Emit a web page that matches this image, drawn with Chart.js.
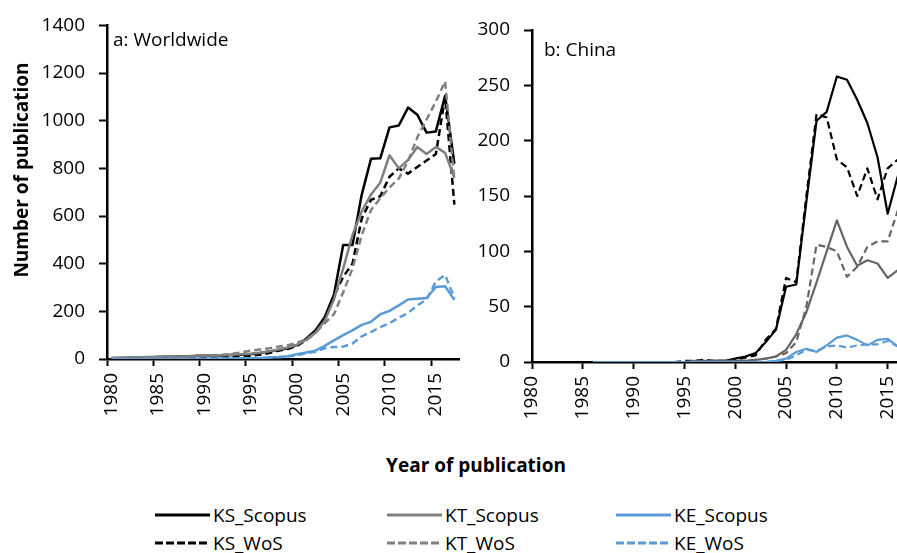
<!DOCTYPE html>
<html>
<head>
<meta charset="utf-8">
<script src="https://cdn.jsdelivr.net/npm/chart.js@4.4.1/dist/chart.umd.min.js"></script>
<style>
  body { margin: 0; background: #fff; }
  .page { position: relative; width: 897px; height: 553px; overflow: hidden; font-family: 'Open Sans', sans-serif; color: #000; }
  .panel { position: absolute; top: 0; }
  .lbl { position: absolute; font-size: 19px; line-height: 22px; white-space: nowrap; }
  .bold { font-weight: bold; }
  .ytitle { width: 300px; text-align: center; transform: rotate(-90deg); }
  .leg { position: absolute; height: 22px; display: flex; align-items: center; font-size: 19px; white-space: nowrap; }
  .leg svg { margin-right: 3px; }
</style>
</head>
<body>
<div class="page">
  <canvas id="chartA" class="panel" width="475" height="440" style="left:0px"></canvas>
  <canvas id="chartB" class="panel" width="480" height="440" style="left:440px"></canvas>
  <div class="lbl" style="left:113px; top:28px">a: Worldwide</div>
  <div class="lbl" style="left:544px; top:38px">b: China</div>
  <div class="lbl bold ytitle" style="left:-129px; top:159px">Number of publication</div>
  <div class="lbl bold" style="left:476px; top:454px; transform:translateX(-50%)">Year of publication</div>
  <div class="js-legend"></div>
</div>
<script>
// jaren (categorie-as)
const years = ['1980','1981','1982','1983','1984','1985','1986','1987','1988','1989',
  '1990','1991','1992','1993','1994','1995','1996','1997','1998','1999',
  '2000','2001','2002','2003','2004','2005','2006','2007','2008','2009',
  '2010','2011','2012','2013','2014','2015','2016','2017'];

// a: Worldwide
const ksScopusWorld = [3,4,5,5,6, 8,9,10,12,13, 15,14,15,17,18, 20,25,32,38,45,
  58,85,120,175,270, 478,478,690,840,842, 972,980,1055,1025,950, 955,1105,820];
const ksWosWorld = [0,0,0,0,0, 1,1,2,3,4, 5,5,6,8,10, 14,18,25,35,42,
  55,80,110,165,265, 345,400,590,668,683, 765,800,778,806,833, 860,1100,648];
const ktScopusWorld = [5,5,6,7,8, 9,10,11,12,14, 16,15,16,18,20, 22,26,32,40,48,
  60,80,110,160,250, 380,520,620,690,740, 855,800,835,890,860, 890,865,760];
const ktWosWorld = [2,3,4,5,6, 7,8,9,10,12, 14,15,18,22,28, 35,40,45,52,58,
  68,82,110,150,188, 280,380,520,625,675, 720,757,830,930,1005, 1080,1165,750];
const keScopusWorld = [0,0,0,0,0, 0,0,0,0,1, 1,1,2,2,3, 3,4,6,8,12,
  20,27,35,55,78, 100,120,143,156,188, 202,225,250,253,256, 302,305,248];
const keWosWorld = [0,0,0,0,0, 0,0,0,0,0, 0,1,1,1,2, 2,3,5,7,10,
  15,25,30,45,50, 52,65,95,113,134, 150,174,193,225,250, 325,353,256];

// b: China (null = nog geen publicaties)
const ksScopusChina = [null,null,null,null,null,null,null,null,null,null,
  null,null,null,null,null,null,null,0,1,1,
  3,5,8,18,29, 68,70,145,218,226, 258,255,237,216,185, 134,168,180];
const ksWosChina = [null,null,null,null,null,null,null,null,null,null,
  null,null,null,null,0,1,1,2,1,1,
  2,4,6,20,30, 76,72,150,224,221, 183,176,150,175,147, 175,183,185];
const ktScopusChina = [null,null,null,null,null,null,null,null,null,null,
  null,null,0,0,0,0,1,1,1,1,
  1,1,2,3,5, 11,25,45,72,100, 128,104,87,92,89, 76,83,85];
const ktWosChina = [null,null,null,null,null,null,null,null,null,null,
  null,null,null,null,null,null,0,0,0,0,
  1,1,2,3,5, 8,18,50,106,104, 100,77,86,104,109, 109,137,140];
const keScopusChina = [null,null,null,null,null,null,0,0,0,0,
  0,0,0,0,0,0,0,0,0,0,
  0,0,0,0,1, 3,9,12,9,15, 22,24,20,15,20, 21,14,15];
const keWosChina = [null,null,null,null,null,null,null,null,null,null,
  0,0,0,0,0,0,0,0,0,0,
  0,0,0,0,1, 2,6,11,10,14, 15,13,15,16,16, 19,14,14];

const legendNames = ['KS_Scopus','KT_Scopus','KE_Scopus','KS_WoS','KT_WoS','KE_WoS'];

const kleur = { ks: '#000000', kt: '#808080', ktB: '#666666', ke: '#5b9bd5' };
const streep = [7, 4];

Chart.defaults.font.family = "'Open Sans', sans-serif";
Chart.defaults.font.size = 19;
Chart.defaults.color = '#000';

const lijn = function (label, data, color, dash, width) {
  return {
    label: label, data: data,
    borderColor: color, backgroundColor: color,
    borderDash: dash, borderWidth: width,
    pointRadius: 0, tension: 0, spanGaps: false,
    borderJoinStyle: 'round'
  };
};

// alleen om de 5 jaar een streepje
const tickKleur = function (ctx) {
  return ctx.index % 5 === 0 ? '#000' : 'rgba(0,0,0,0)';
};

const tekenPanel = function (id, datasets, opts) {
  new Chart(document.getElementById(id), {
    type: 'line',
    data: { labels: years, datasets: datasets },
    options: {
      responsive: false,
      animation: false,
      devicePixelRatio: 1,
      layout: { padding: { left: 0, top: opts.top, right: opts.right, bottom: 0 } },
      plugins: { legend: { display: false }, tooltip: { enabled: false } },
      scales: {
        x: {
          offset: opts.between,
          grid: { offset: opts.between, drawOnChartArea: false, color: tickKleur, tickColor: tickKleur, tickLength: 7, tickWidth: 2 },
          border: { color: '#000', width: 2.5 },
          ticks: {
            autoSkip: false, minRotation: 90, maxRotation: 90, padding: 7,
            callback: function (v, i) { return i % 5 === 0 ? years[i] : ''; }
          },
          afterFit: function (s) {
            s.height = opts.xHeight;
            s.paddingLeft = 0;
            s.paddingRight = 0;
          }
        },
        y: {
          min: 0, max: opts.max,
          ticks: { stepSize: opts.step, padding: 14, callback: function (v) { return String(v); } },
          grid: { drawOnChartArea: false, color: '#000', tickLength: 8, tickWidth: 2 },
          border: { color: '#000', width: 2.5 },
          afterFit: function (s) { s.width = opts.yWidth; }
        }
      }
    }
  });
};

tekenPanel('chartA', [
  lijn(legendNames[5], keWosWorld, kleur.ke, streep, 2.5),
  lijn(legendNames[2], keScopusWorld, kleur.ke, [], 2.5),
  lijn(legendNames[4], ktWosWorld, kleur.kt, streep, 2.5),
  lijn(legendNames[1], ktScopusWorld, kleur.kt, [], 2.5),
  lijn(legendNames[3], ksWosWorld, kleur.ks, streep, 2.5),
  lijn(legendNames[0], ksScopusWorld, kleur.ks, [], 2.5)
], { top: 19, right: 16, xHeight: 81, yWidth: 107, max: 1400, step: 200, between: true });

tekenPanel('chartB', [
  lijn(legendNames[5], keWosChina, kleur.ke, streep, 2.2),
  lijn(legendNames[2], keScopusChina, kleur.ke, [], 2.2),
  lijn(legendNames[4], ktWosChina, kleur.ktB, streep, 2.2),
  lijn(legendNames[1], ktScopusChina, kleur.ktB, [], 2.2),
  lijn(legendNames[3], ksWosChina, kleur.ks, streep, 2.2),
  lijn(legendNames[0], ksScopusChina, kleur.ks, [], 2.2)
], { top: 30, right: 12, xHeight: 78, yWidth: 92, max: 300, step: 50, between: false });

// legende: 3 kolommen, 2 rijen
const legendColors = [kleur.ks, kleur.kt, kleur.ke, kleur.ks, kleur.kt, kleur.ke];
const legendX = [155, 387, 616];
const legendY = [515, 543];
let html = '';
for (let i = 0; i < legendNames.length; i++) {
  const col = i % 3;
  const row = Math.floor(i / 3);
  const dash = row === 1 ? 'stroke-dasharray="8,3"' : '';
  html += `<div class="leg" style="left:${legendX[col]}px; top:${legendY[row] - 11}px">
    <svg width="55" height="6"><line x1="0" y1="3" x2="55" y2="3" stroke="${legendColors[i]}" stroke-width="3" ${dash}/></svg>${legendNames[i]}</div>`;
}
document.querySelector('.js-legend').innerHTML = html;
</script>
</body>
</html>
